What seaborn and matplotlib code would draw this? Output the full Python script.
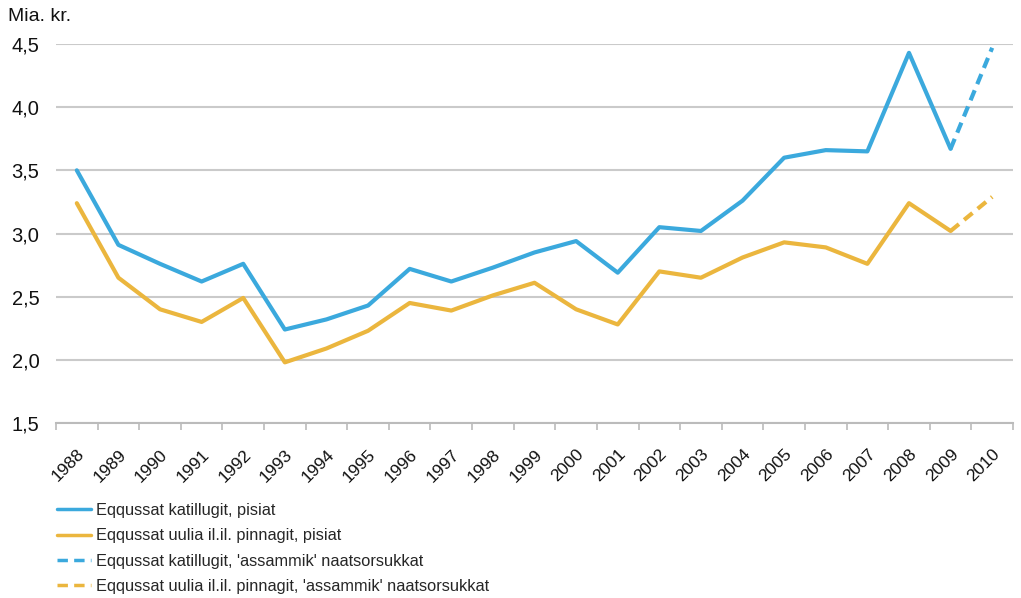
import numpy as np
import pandas as pd
import matplotlib
matplotlib.use("Agg")
import matplotlib.pyplot as plt
import matplotlib.ticker as mticker
import seaborn as sns

# ------------------------------------------------------------
# data
# ------------------------------------------------------------
years = list(range(1988, 2011))
katillugit = [3.50, 2.91, 2.76, 2.62, 2.76, 2.24, 2.32, 2.43, 2.72, 2.62, 2.73,
              2.85, 2.94, 2.69, 3.05, 3.02, 3.26, 3.60, 3.66, 3.65, 4.43, 3.67]
katillugit_forecast = [3.67, 4.47]          # 2009 -> 2010
uulia = [3.24, 2.65, 2.40, 2.30, 2.49, 1.98, 2.09, 2.23, 2.45, 2.39, 2.51,
         2.61, 2.40, 2.28, 2.70, 2.65, 2.81, 2.93, 2.89, 2.76, 3.24, 3.02]
uulia_forecast = [3.02, 3.29]
forecast_years = [2009, 2010]

labels = [
    "Eqqussat katillugit, pisiat",
    "Eqqussat uulia il.il. pinnagit, pisiat",
    "Eqqussat katillugit, 'assammik' naatsorsukkat",
    "Eqqussat uulia il.il. pinnagit, 'assammik' naatsorsukkat",
]
y_ticks = [1.5, 2.0, 2.5, 3.0, 3.5, 4.0, 4.5]

BLUE = "#3BA9DD"
YELLOW = "#EBB63E"
GRID = "#CACACA"

sns.set_theme(style="white")
plt.rcParams["font.family"] = ["Liberation Sans", "DejaVu Sans"]

df_solid = pd.concat([
    pd.DataFrame({"year": years[:-1], "value": katillugit, "serie": labels[0]}),
    pd.DataFrame({"year": years[:-1], "value": uulia, "serie": labels[1]}),
])
df_dash = pd.concat([
    pd.DataFrame({"year": forecast_years, "value": katillugit_forecast, "serie": labels[2]}),
    pd.DataFrame({"year": forecast_years, "value": uulia_forecast, "serie": labels[3]}),
])

fig = plt.figure(figsize=(10.21, 5.98), dpi=100)
ax = fig.add_axes([56 / 1021, 1 - 423 / 598, (1013 - 56) / 1021, (423 - 44) / 598])

sns.lineplot(data=df_solid, x="year", y="value", hue="serie",
             palette=[BLUE, YELLOW], linewidth=3, ax=ax, legend=False)
sns.lineplot(data=df_dash, x="year", y="value", hue="serie",
             palette=[BLUE, YELLOW], linewidth=3, ax=ax, legend=False,
             dashes=False)
for line in ax.lines[2:]:
    line.set_dashes((2.6, 1.6))

# 轴范围与刻度
ax.set_xlim(years[0] - 0.5, years[-1] + 0.5)
ax.set_ylim(y_ticks[0], y_ticks[-1])
ax.set_yticks(y_ticks)
ax.yaxis.set_major_formatter(mticker.FuncFormatter(lambda v, p: f"{v:.1f}".replace(".", ",")))
ax.tick_params(axis="y", length=0, pad=12, labelsize=14.5, colors="#111111")

ax.set_xticks(years)
ax.set_xticklabels([str(y) for y in years], rotation=45, ha="right",
                   rotation_mode="anchor", fontsize=12.5, color="#111111")
ax.xaxis.set_minor_locator(mticker.FixedLocator([y - 0.5 for y in years] + [years[-1] + 0.5]))
ax.tick_params(axis="x", which="major", bottom=False, length=0, pad=17)
ax.tick_params(axis="x", which="minor", bottom=True, length=5, width=1.2,
               color="#BBBBBB", direction="out")

ax.yaxis.grid(True, color=GRID, linewidth=1.5)
ax.set_axisbelow(True)
for side in ["top", "right", "left"]:
    ax.spines[side].set_visible(False)
ax.spines["bottom"].set_color("#BBBBBB")
ax.spines["bottom"].set_linewidth(1.5)
ax.set_xlabel("")
ax.set_ylabel("")

fig.text(8 / 1021, 1 - 21 / 598, "Mia. kr.", fontsize=14, color="#111111")

# 图例（手动）
handles = [
    plt.Line2D([], [], color=BLUE, linewidth=2.5),
    plt.Line2D([], [], color=YELLOW, linewidth=2.5),
    plt.Line2D([], [], color=BLUE, linewidth=2.5, dashes=(3, 1.8)),
    plt.Line2D([], [], color=YELLOW, linewidth=2.5, dashes=(3, 1.8)),
]
fig.legend(handles, labels, loc="upper left", bbox_to_anchor=(57 / 1021, 1 - 503 / 598),
           frameon=False, fontsize=11.8, handlelength=2.05, handletextpad=0.35,
           labelspacing=0.63, borderpad=0, borderaxespad=0)

fig.savefig("out.png", dpi=100)
